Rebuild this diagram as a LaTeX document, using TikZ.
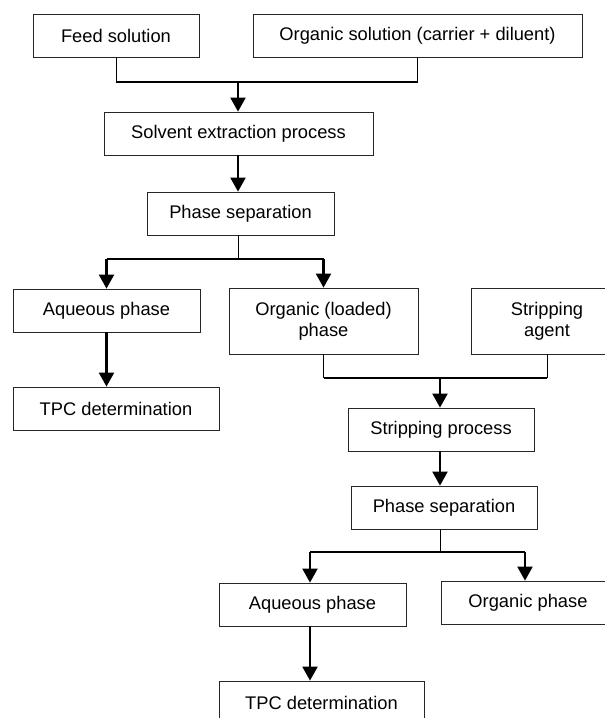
\documentclass[tikz,border=0pt]{standalone}
\usepackage{fontspec}
\setmainfont{Liberation Sans}
\usetikzlibrary{arrows.meta}
\begin{document}
\begin{tikzpicture}[x=1pt,y=-1pt,
  box/.style={draw=black!85, line width=0.8pt, inner sep=0pt, align=center,
    font=\fontsize{18.3}{21}\selectfont},
  thinline/.style={line width=1pt},
  bar/.style={line width=1.6pt},
  arr/.style={line width=2.2pt, -{Triangle[length=14pt,width=15pt]}}]
\useasboundingbox (0,0) rectangle (605,718);
\clip (0,0) rectangle (605,718);
% nodes
\node[box, minimum width=166pt, minimum height=43pt] (feed) at (116,35.5) {Feed solution};
\node[box, minimum width=329pt, minimum height=43pt] (orgsol) at (417.5,35.5) {Organic solution (carrier + diluent)};
\node[box, minimum width=269pt, minimum height=43pt] (solvent) at (238.5,133.5) {Solvent extraction process};
\node[box, minimum width=187pt, minimum height=43pt] (phaseA) at (240.5,213.5) {Phase separation};
\node[box, minimum width=187pt, minimum height=43pt] (aqA) at (106.5,310.5) {Aqueous phase};
\node[box, minimum width=189pt, minimum height=66pt] (orgload) at (323.5,321) {Organic (loaded)\\phase};
\node[box, minimum width=152pt, minimum height=66pt] (stripag) at (547,321) {Stripping\\agent};
\node[box, minimum width=206pt, minimum height=43pt] (tpcA) at (116,408.5) {TPC determination};
\node[box, minimum width=186pt, minimum height=43pt] (strproc) at (441,429.5) {Stripping process};
\node[box, minimum width=186pt, minimum height=43pt] (phaseB) at (444,507.5) {Phase separation};
\node[box, minimum width=187pt, minimum height=43pt] (aqB) at (312.5,604.5) {Aqueous phase};
\node[box, minimum width=174pt, minimum height=43pt] (orgph) at (528,602.5) {Organic phase};
\node[box, minimum width=205pt, minimum height=43pt] (tpcB) at (321.5,702.5) {TPC determination};
% junction points
\coordinate (j1) at (238,82);
\coordinate (j2) at (238,259);
\coordinate (j3) at (440,378);
\coordinate (j4) at (440,552);
% merge 1
\draw[thinline] (feed.south) -- (feed.south |- j1);
\draw[thinline] (orgsol.south) -- (orgsol.south |- j1);
\draw[bar] (feed.south |- j1) -- (orgsol.south |- j1);
\draw[arr] (j1) -- (j1 |- solvent.north);
\draw[arr] (j1 |- solvent.south) -- (j1 |- phaseA.north);
% split 1
\draw[thinline] (j1 |- phaseA.south) -- (j2);
\draw[bar] (aqA.north |- j2) -- (orgload.north |- j2);
\draw[arr] (aqA.north |- j2) -- (aqA.north);
\draw[arr] (orgload.north |- j2) -- (orgload.north);
\draw[arr] (aqA.south) -- (aqA.south |- tpcA.north);
% merge 2
\draw[thinline] (orgload.south) -- (orgload.south |- j3);
\draw[thinline] (stripag.south) -- (stripag.south |- j3);
\draw[bar] (orgload.south |- j3) -- (stripag.south |- j3);
\draw[arr] (j3) -- (j3 |- strproc.north);
\draw[arr] (j3 |- strproc.south) -- (j3 |- phaseB.north);
% split 2
\draw[thinline] (j3 |- phaseB.south) -- (j4);
\coordinate (aqBx) at (310,552);
\coordinate (orgphx) at (525,552);
\draw[bar] (aqBx) -- (orgphx);
\draw[arr] (aqBx) -- (aqBx |- aqB.north);
\draw[arr] (orgphx) -- (orgphx |- orgph.north);
\draw[arr] (aqBx |- aqB.south) -- (aqBx |- tpcB.north);
\end{tikzpicture}
\end{document}
